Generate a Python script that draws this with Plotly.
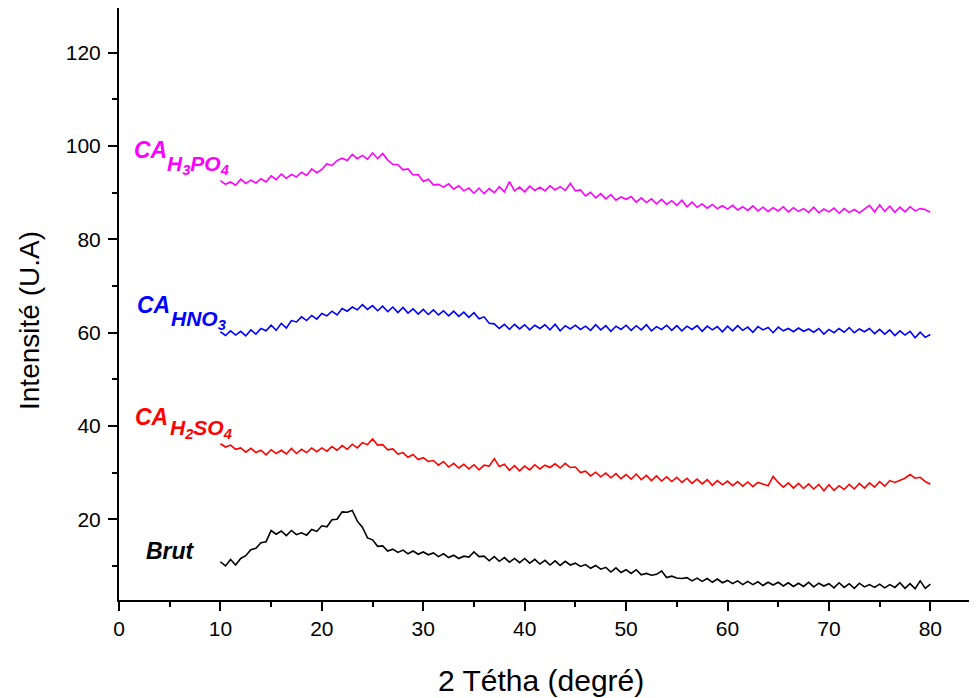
import plotly.graph_objects as go

two_theta = [10 + 0.5 * i for i in range(141)]

ca_h3po4 = [
    92.6, 91.8, 92.3, 91.6, 92.9, 92.0, 92.7, 92.1, 93.0, 92.3,
    93.6, 92.8, 94.0, 93.1, 93.9, 93.4, 94.4, 93.7, 95.1, 94.3,
    95.0, 96.2, 95.8, 96.9, 97.4, 96.9, 98.2, 97.3, 98.0, 97.2,
    98.5, 97.3, 98.4, 97.0, 96.1, 96.0, 94.9, 95.1, 93.8, 93.9,
    92.4, 92.9, 91.7, 91.8, 91.2, 91.9, 90.8, 91.5, 90.4, 91.0,
    89.9, 91.0, 89.8, 90.9, 90.0, 91.3, 90.2, 92.4, 90.4, 91.2,
    90.2, 91.4, 90.5, 91.2, 90.4, 91.5, 90.6, 91.3, 90.5, 92.0,
    90.4, 90.6, 89.3, 90.1, 88.9, 89.8, 88.7, 89.6, 88.4, 89.1,
    88.6, 89.2, 88.0, 88.9, 87.9, 88.7, 87.6, 88.6, 87.5, 88.3,
    87.3, 88.4, 87.0, 88.0, 86.9, 87.6, 86.7, 87.5, 86.6, 87.2,
    86.5, 87.3, 86.3, 87.0, 86.2, 87.2, 86.1, 86.9, 86.0, 86.8,
    86.1, 87.0, 85.9, 86.8, 86.0, 86.6, 85.8, 86.9, 85.7, 86.5,
    85.9, 86.7, 85.6, 86.6, 85.8, 86.4, 85.7, 86.5, 87.3, 85.9,
    87.4, 86.0, 87.1, 85.8, 86.9, 85.9, 87.0, 86.1, 86.6, 86.4,
    85.8,
]

ca_hno3 = [
    60.2, 59.4, 60.4, 59.5, 60.3, 59.3, 60.6, 59.7, 60.9, 60.4,
    61.6, 60.5, 62.0, 61.0, 62.6, 62.3, 63.4, 62.6, 63.7, 62.9,
    64.1, 63.6, 64.6, 63.8, 65.2, 64.6, 65.5, 64.9, 66.0, 65.0,
    65.8, 64.7, 65.7, 64.5, 65.5, 64.3, 65.4, 64.2, 65.1, 64.0,
    65.0, 63.9, 64.9, 63.8, 64.7, 63.6, 64.6, 63.5, 64.4, 63.3,
    64.3, 63.0, 63.4, 62.0, 61.9, 60.9, 61.8, 60.7, 61.8, 60.8,
    61.7, 60.6, 61.6, 60.9, 61.7, 60.6, 61.8, 60.4, 61.5, 60.8,
    61.6, 60.7, 61.4, 60.5, 61.7, 60.6, 61.5, 60.3, 61.4, 60.7,
    61.6, 60.5, 61.5, 60.6, 61.7, 60.4, 61.3, 60.7, 61.6, 60.5,
    61.5, 60.4, 61.4, 60.7, 61.5, 60.3, 61.4, 60.6, 61.3, 60.2,
    61.4, 60.4, 61.5, 60.5, 61.2, 60.1, 61.3, 60.6, 61.1, 60.0,
    61.2, 60.4, 60.9, 60.2, 61.0, 60.3, 60.8, 60.1, 60.9, 59.7,
    60.7, 60.0, 60.9, 60.1, 61.1, 60.0, 60.8, 60.2, 60.9, 59.8,
    60.7, 59.7, 60.6, 59.4, 60.4, 59.5, 60.3, 58.9, 60.1, 59.0,
    59.6,
]

ca_h2so4 = [
    36.2, 35.5, 35.9, 35.0, 35.3, 34.4, 35.2, 34.3, 34.8, 33.8,
    34.9, 34.1, 34.8, 34.0, 35.2, 34.1, 35.0, 34.3, 35.3, 34.5,
    35.3, 34.6, 35.6, 34.8, 35.8, 35.0, 36.1, 35.3, 36.4, 36.0,
    37.2, 35.9, 36.0, 34.9, 35.1, 34.0, 34.3, 33.3, 33.9, 32.8,
    33.2, 32.4, 32.6, 31.6, 32.4, 31.2, 32.0, 31.0, 31.8, 30.8,
    31.7, 30.6, 31.6, 31.4, 33.0, 31.3, 31.8, 30.5, 31.5, 30.4,
    31.4, 30.6, 31.7, 30.8, 31.6, 31.1, 31.9, 31.0, 32.0, 31.1,
    31.2, 30.0, 30.3, 29.3, 30.1, 29.1, 29.9, 28.9, 29.8, 28.7,
    29.6, 28.6, 29.7, 28.5, 29.4, 28.3, 29.3, 28.2, 29.1, 28.1,
    29.0, 27.9, 28.8, 27.7, 28.6, 27.6, 28.5, 27.3, 28.3, 27.4,
    28.2, 27.2, 28.1, 27.1, 28.0, 27.0, 27.9, 27.6, 27.2, 29.2,
    27.9, 26.9, 27.8, 26.7, 27.7, 26.6, 27.6, 26.5, 27.5, 26.1,
    27.4, 26.2, 27.2, 26.4, 27.5, 26.5, 27.7, 26.7, 27.8, 26.9,
    28.1, 27.1, 28.3, 27.9, 28.4, 28.8, 29.6, 28.8, 29.0, 28.1,
    27.5,
]

brut = [
    10.9, 10.0, 11.4, 10.2, 11.6, 12.2, 13.5, 13.8, 15.0, 15.2,
    17.6, 16.8, 17.5, 16.5, 17.6, 16.7, 17.1, 16.6, 17.8, 17.4,
    18.6, 18.4, 19.9, 20.0, 21.6, 21.5, 21.9, 19.6, 18.3, 16.0,
    15.6, 14.2, 14.3, 13.2, 13.6, 12.9, 13.4, 12.6, 13.2, 12.5,
    13.0, 12.4, 12.8, 12.0, 12.6, 11.8, 12.3, 11.6, 12.1, 11.9,
    13.0, 12.0, 12.1, 11.1, 12.0, 11.0, 11.8, 10.8, 11.6, 10.7,
    11.6, 10.6, 11.4, 10.4, 11.2, 10.2, 11.1, 10.1, 11.0, 10.2,
    10.6, 9.9, 10.3, 9.5, 10.1, 9.3, 9.7, 8.7, 9.6, 8.6,
    9.2, 8.4, 9.2, 8.1, 8.4, 8.0, 8.2, 8.9, 7.5, 7.8,
    7.4, 7.3, 7.5, 6.8, 7.4, 6.7, 7.3, 6.5, 7.2, 6.4,
    6.9, 6.2, 6.8, 6.0, 6.7, 6.0, 6.6, 5.8, 6.5, 5.9,
    6.5, 5.7, 6.4, 5.6, 6.3, 5.6, 6.5, 5.5, 6.3, 5.7,
    6.2, 5.3, 6.4, 5.4, 6.2, 5.2, 6.3, 5.5, 6.0, 5.4,
    6.1, 5.3, 6.0, 5.4, 6.4, 5.2, 6.2, 5.1, 6.8, 5.2,
    6.1,
]

x_ticks = [0, 10, 20, 30, 40, 50, 60, 70, 80]
y_ticks = [20, 40, 60, 80, 100, 120]

series = [
    ("Brut", brut, "#000000"),
    ("CA H2SO4", ca_h2so4, "#FF0000"),
    ("CA HNO3", ca_hno3, "#0000FF"),
    ("CA H3PO4", ca_h3po4, "#FF00FF"),
]

FONT = "Arial, Liberation Sans, sans-serif"

fig = go.Figure()
for name, vals, col in series:
    fig.add_trace(go.Scatter(x=two_theta, y=vals, mode="lines", name=name,
                             line=dict(color=col, width=1.6), showlegend=False))

# curve labels: main part + subscript part
main_labels = [
    (1.28, 99.1, "CA", "#FF00FF", 23),
    (1.58, 65.9, "CA", "#0000FF", 23),
    (1.38, 41.9, "CA", "#FF0000", 23),
    (2.46, 13.1, "Brut", "#000000", 23),
]
sub_labels = [
    (4.58, 96.0, "H<sub>3</sub>PO<sub>4</sub>", "#FF00FF"),
    (4.93, 62.8, "HNO<sub>3</sub>", "#0000FF"),
    (4.83, 39.4, "H<sub>2</sub>SO<sub>4</sub>", "#FF0000"),
]
for lx, ly, txt, col, sz in main_labels:
    fig.add_annotation(x=lx, y=ly, xref="x", yref="y", text="<b><i>" + txt + "</i></b>",
                       showarrow=False, xanchor="left", yanchor="middle",
                       font=dict(family=FONT, size=sz, color=col))
for lx, ly, txt, col in sub_labels:
    fig.add_annotation(x=lx, y=ly, xref="x", yref="y", text="<b><i>" + txt + "</i></b>",
                       showarrow=False, xanchor="left", yanchor="middle",
                       font=dict(family=FONT, size=21, color=col))

# axis titles
fig.add_annotation(x=0.4918, y=-0.1368, xref="paper", yref="paper", text="2 Tétha (degré)",
                   showarrow=False, xanchor="center", yanchor="middle",
                   font=dict(family=FONT, size=30, color="black"))
fig.add_annotation(x=0, y=0.4713, xref="paper", yref="paper", text="Intensité (U.A)",
                   showarrow=False, xanchor="center", yanchor="middle", xshift=-89,
                   textangle=-90, font=dict(family=FONT, size=28, color="black"))

axis_common = dict(showline=True, linecolor="black", linewidth=2, showgrid=False,
                   zeroline=False, ticks="outside", ticklen=9, tickwidth=2,
                   tickcolor="black", tickfont=dict(family=FONT, size=21, color="black"))

fig.update_layout(
    width=969, height=690,
    margin=dict(l=111, r=0, t=0, b=98, autoexpand=False),
    paper_bgcolor="white", plot_bgcolor="white",
    xaxis=dict(range=[0, 84.6], tickvals=x_ticks,
               minor=dict(dtick=5, tick0=0, ticks="outside", ticklen=5, tickwidth=2, tickcolor="black"),
               **axis_common),
    yaxis=dict(range=[2.7, 129.6], tickvals=y_ticks, ticklabelstandoff=3,
               minor=dict(dtick=10, tick0=0, ticks="outside", ticklen=5, tickwidth=2, tickcolor="black"),
               **axis_common),
)

fig.write_html("out.html")
